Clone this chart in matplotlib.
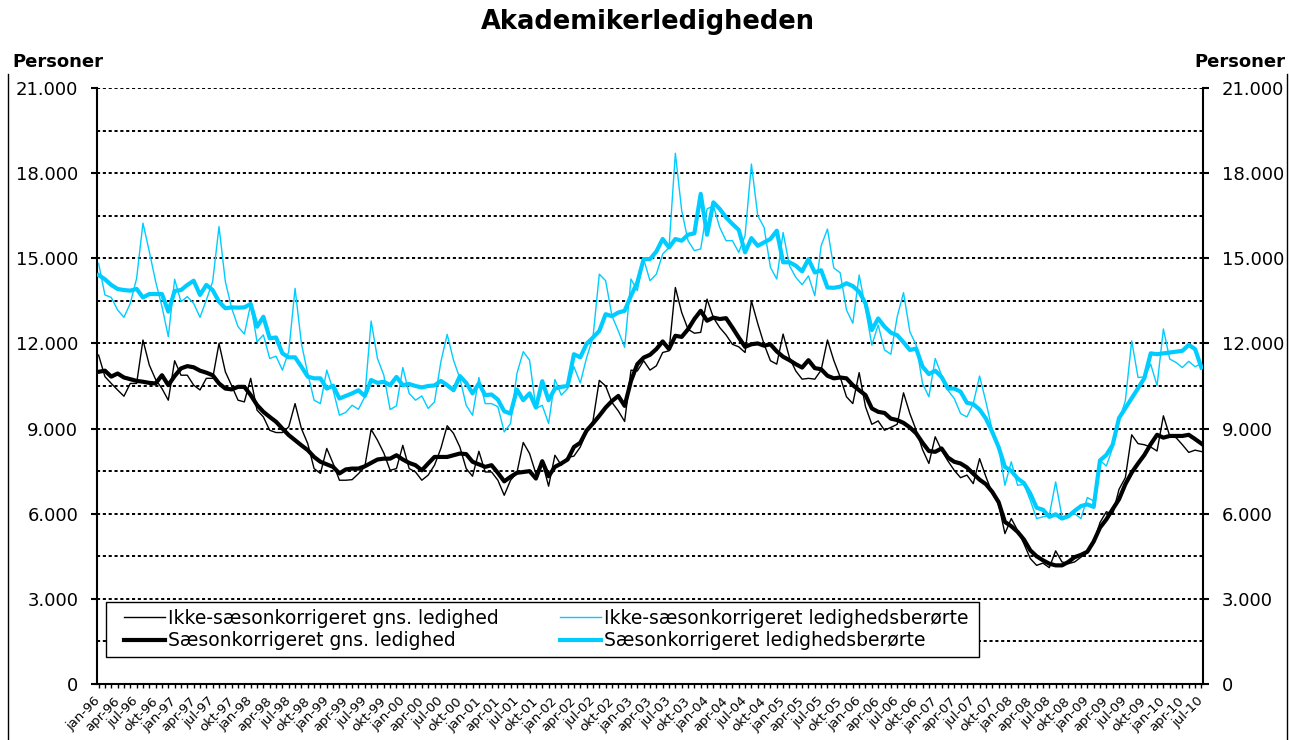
import matplotlib.pyplot as plt
from matplotlib.lines import Line2D
from matplotlib.patches import Rectangle
import matplotlib.ticker as mticker

plt.rcParams['font.family'] = ['DejaVu Sans']

# monthly categories jan-96 .. jul-10
month_names = ['jan', 'feb', 'mar', 'apr', 'maj', 'jun', 'jul', 'aug', 'sep', 'okt', 'nov', 'dec']
years = list(range(1996, 2011))
categories = [f"{m}-{y % 100:02d}" for y in years for m in month_names][:175]

# Ikke-saesonkorrigeret gns. ledighed
raw_avg = [
    11590, 10830, 10590, 10360, 10140, 10590, 10590, 12120, 11240, 10730, 10410, 10000,
    11390, 10880, 10880, 10530, 10360, 10770, 10770, 12000, 11000, 10510, 10000, 9940,
    10770, 9650, 9410, 8940, 8860, 8860, 9060, 9880, 9000, 8470, 7590, 7420,
    8300, 7770, 7180, 7180, 7200, 7410, 7650, 8970, 8590, 8140, 7530, 7590,
    8410, 7590, 7470, 7180, 7360, 7710, 8300, 9100, 8830, 8350, 7590, 7320,
    8200, 7470, 7470, 7180, 6650, 7180, 7440, 8510, 8120, 7410, 7830, 6970,
    8060, 7710, 7980, 8030, 8350, 8900, 9270, 10700, 10500, 9920, 9620, 9250,
    11060, 11030, 11390, 11060, 11210, 11680, 11740, 13970, 13090, 12500, 12360, 12390,
    13560, 12910, 12560, 12300, 11970, 11880, 11680, 13500, 12700, 11970, 11390, 11270,
    12330, 11500, 11030, 10740, 10770, 10740, 11060, 12120, 11400, 10820, 10120, 9880,
    10970, 9770, 9150, 9270, 8940, 9040, 9150, 10260, 9530, 8940, 8260, 7770,
    8710, 8240, 7860, 7530, 7270, 7360, 7060, 7940, 7300, 6730, 6330, 5300,
    5830, 5410, 4940, 4420, 4180, 4260, 4100, 4690, 4300, 4240, 4300, 4470,
    4630, 4980, 5690, 6070, 5980, 6860, 7270, 8780, 8470, 8430, 8350, 8210,
    9450, 8740, 8680, 8430, 8160, 8240, 8190,
]

# Saesonkorrigeret gns. ledighed
sa_avg = [
    11000, 11040, 10830, 10940, 10800, 10740, 10680, 10650, 10610, 10590, 10880, 10530,
    10850, 11120, 11200, 11160, 11040, 10970, 10880, 10590, 10410, 10380, 10470, 10470,
    10180, 9830, 9590, 9410, 9240, 9000, 8770, 8590, 8410, 8240, 8000, 7830,
    7740, 7650, 7420, 7560, 7590, 7590, 7670, 7790, 7910, 7940, 7940, 8060,
    7910, 7790, 7710, 7530, 7770, 8000, 8000, 8000, 8060, 8120, 8100, 7830,
    7740, 7650, 7710, 7440, 7140, 7300, 7440, 7470, 7500, 7240, 7850, 7320,
    7650, 7770, 7910, 8350, 8500, 8930, 9180, 9450, 9740, 9970, 10150, 9800,
    10680, 11270, 11500, 11600, 11800, 12070, 11800, 12270, 12230, 12500, 12860, 13150,
    12800, 12910, 12860, 12890, 12560, 12210, 11880, 11970, 12000, 11920, 11970, 11720,
    11530, 11410, 11270, 11150, 11410, 11130, 11090, 10860, 10770, 10800, 10770, 10530,
    10350, 10180, 9710, 9590, 9550, 9350, 9300, 9200, 9040, 8830, 8500, 8210,
    8180, 8300, 7980, 7830, 7770, 7630, 7410, 7200, 7040, 6770, 6410, 5710,
    5560, 5360, 5090, 4710, 4500, 4360, 4240, 4180, 4180, 4300, 4470, 4550,
    4660, 5020, 5510, 5800, 6160, 6510, 7040, 7450, 7770, 8070, 8450, 8780,
    8680, 8740, 8740, 8740, 8780, 8630, 8470,
]

# Ikke-saesonkorrigeret ledighedsberoerte
raw_aff = [
    14820, 13710, 13620, 13180, 12920, 13410, 14290, 16240, 15240, 14180, 13300, 12240,
    14260, 13470, 13650, 13410, 12920, 13530, 14180, 16120, 14180, 13240, 12590, 12330,
    13390, 12060, 12300, 11470, 11550, 11060, 11710, 13940, 12000, 10940, 10000, 9880,
    11060, 10360, 9470, 9570, 9820, 9680, 10120, 12790, 11470, 10880, 9670, 9800,
    11150, 10240, 10000, 10150, 9710, 9940, 11350, 12320, 11410, 10770, 9820, 9470,
    10800, 9880, 9880, 9770, 8880, 9180, 10940, 11710, 11410, 9710, 9820, 9180,
    10730, 10180, 10410, 11180, 10610, 11500, 12210, 14440, 14210, 12970, 12440, 11860,
    14270, 13860, 14970, 14210, 14440, 15150, 15380, 18700, 16680, 15620, 15270, 15330,
    16740, 16850, 16090, 15620, 15620, 15210, 15800, 18320, 16500, 16090, 14680, 14270,
    15910, 14740, 14330, 14070, 14380, 13680, 15440, 16030, 14660, 14490, 13180, 12710,
    14410, 13240, 11940, 12650, 11770, 11620, 12940, 13790, 12410, 11940, 10590, 10120,
    11470, 10880, 10350, 10060, 9530, 9410, 9880, 10850, 9940, 8940, 8350, 7000,
    7830, 7000, 7040, 6470, 5830, 5890, 5940, 7120, 5890, 5940, 6000, 5830,
    6570, 6450, 7880, 7680, 8330, 9270, 9980, 12090, 10800, 10820, 11270, 10510,
    12510, 11450, 11330, 11150, 11370, 11180, 11290,
]

# Saesonkorrigeret ledighedsberoerte
sa_aff = [
    14410, 14260, 14060, 13920, 13880, 13860, 13920, 13620, 13740, 13740, 13740, 13120,
    13850, 13880, 14060, 14210, 13710, 14060, 13880, 13470, 13240, 13270, 13260, 13270,
    13390, 12590, 12940, 12180, 12210, 11650, 11510, 11510, 11180, 10830, 10770, 10770,
    10410, 10510, 10060, 10150, 10240, 10350, 10150, 10710, 10610, 10650, 10530, 10820,
    10530, 10570, 10500, 10450, 10500, 10520, 10680, 10530, 10350, 10850, 10610, 10240,
    10590, 10180, 10200, 10020, 9610, 9530, 10380, 10000, 10240, 9740, 10670, 10000,
    10410, 10470, 10500, 11620, 11510, 11990, 12210, 12440, 13030, 12960, 13090, 13150,
    13680, 14150, 14970, 14970, 15240, 15680, 15380, 15680, 15620, 15830, 15880, 17270,
    15830, 16970, 16740, 16440, 16210, 16000, 15210, 15710, 15440, 15560, 15680, 15970,
    14860, 14860, 14740, 14540, 14970, 14500, 14580, 13970, 13960, 14000, 14120, 14020,
    13820, 13410, 12470, 12880, 12590, 12380, 12290, 12040, 11770, 11820, 11180, 10920,
    11040, 10820, 10410, 10410, 10300, 9910, 9860, 9670, 9350, 8880, 8350, 7650,
    7510, 7240, 7080, 6710, 6210, 6140, 5890, 5980, 5830, 5910, 6100, 6270,
    6330, 6240, 7880, 8070, 8430, 9370, 9720, 10070, 10420, 10780, 11650, 11620,
    11650, 11680, 11710, 11740, 11950, 11800, 11150,
]

series_labels = [
    'Ikke-sæsonkorrigeret gns. ledighed',
    'Sæsonkorrigeret gns. ledighed',
    'Ikke-sæsonkorrigeret ledighedsberørte',
    'Sæsonkorrigeret ledighedsberørte',
]

blue = '#00CCFF'
W, H = 1290, 740
fig = plt.figure(figsize=(W / 100, H / 100), dpi=100)
ax = fig.add_axes([97 / W, 1 - 684 / H, (1203 - 97) / W, (684 - 88) / H])

x = list(range(len(categories)))

# dotted horizontal grid every 1500
for v in range(1500, 21001, 1500):
    ax.axhline(v, color='black', lw=1.4, linestyle=(0, (1.6, 1.4)), zorder=1)

l1, = ax.plot(x, raw_avg, color='black', lw=1.0, zorder=3)
l2, = ax.plot(x, sa_avg, color='black', lw=3.0, zorder=4)
l3, = ax.plot(x, raw_aff, color=blue, lw=1.0, zorder=3)
l4, = ax.plot(x, sa_aff, color=blue, lw=3.0, zorder=4)

ax.set_xlim(-0.25, len(categories) - 0.75)
ax.set_ylim(0, 21000)

ax.yaxis.set_major_locator(mticker.MultipleLocator(3000))
ax.yaxis.set_major_formatter(mticker.FuncFormatter(lambda v, p: f"{v:,.0f}".replace(',', '.')))
ax.tick_params(axis='y', which='major', direction='out', length=4.5, width=1.5,
               labelsize=13, left=True, right=True, labelleft=True, labelright=True, pad=9)

ax.set_xticks(x[::3])
ax.set_xticklabels(categories[::3], rotation=45, ha='right', va='center', rotation_mode='anchor')
ax.set_xticks(x, minor=True)
ax.tick_params(axis='x', which='both', direction='out', length=3, width=1.0, labelsize=9.5, pad=8)

for side in ['left', 'right', 'bottom']:
    ax.spines[side].set_linewidth(1.5)
ax.spines['top'].set_visible(False)


def ax_frac(px, py):
    return (px - 97) / 1106, (684 - py) / 596


# legend frame
fx, fy = ax_frac(106, 657)
fx2, fy2 = ax_frac(979, 602)
ax.add_patch(Rectangle((fx, fy), fx2 - fx, fy2 - fy, transform=ax.transAxes,
                       facecolor='white', edgecolor='black', lw=1.0, zorder=5))

bx, by = ax_frac(124, 654)
bx2, by2 = ax_frac(968, 605)
leg = ax.legend([l1, l2, l3, l4], series_labels, ncol=2, loc='center',
                bbox_to_anchor=(bx, by, bx2 - bx, by2 - by), mode='expand',
                frameon=False, fontsize=13.5, handlelength=2.2, handletextpad=0.12,
                labelspacing=0.18, borderpad=0, borderaxespad=0)
leg.set_zorder(6)

fig.text(648 / W, 1 - 22 / H, 'Akademikerledigheden', ha='center', va='center',
         fontsize=18.5, fontweight='bold')
fig.text(12 / W, 1 - 62 / H, 'Personer', ha='left', va='center', fontsize=13, fontweight='bold')
fig.text(1285 / W, 1 - 62 / H, 'Personer', ha='right', va='center', fontsize=13, fontweight='bold')

# outer chart border (sides)
fig.add_artist(Line2D([8 / W, 8 / W], [0, 1 - 74 / H], color='black', lw=1.0))
fig.add_artist(Line2D([1287 / W, 1287 / W], [0, 1 - 74 / H], color='black', lw=1.0))

fig.savefig('out.png', dpi=100)
